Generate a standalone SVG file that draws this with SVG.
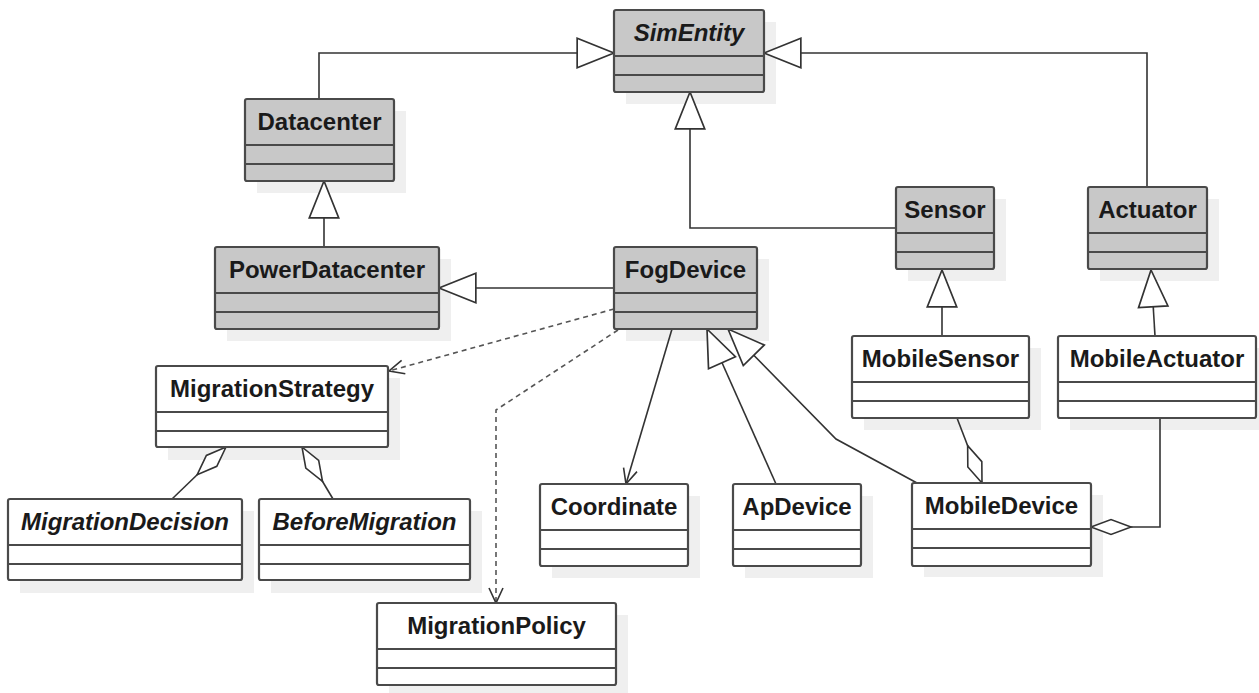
<svg xmlns="http://www.w3.org/2000/svg" width="1259" height="693" viewBox="0 0 1259 693">
  <style>
    .shadow { fill: #efefef; }
    .box { stroke: #4a4a4a; stroke-width: 2.2; }
    .gray { fill: #c8c8c8; }
    .white { fill: #ffffff; }
    .div { stroke: #4a4a4a; stroke-width: 2.2; }
    .name { font-family: "Liberation Sans", Arial, sans-serif; font-size: 24px; font-weight: bold; fill: #1a1a1a; text-anchor: middle; }
    .italic { font-style: italic; }
    .link { fill: none; stroke: #333333; stroke-width: 1.6; }
    .dep { fill: none; stroke: #555555; stroke-width: 1.6; stroke-dasharray: 5 4; }
  </style>
  <defs>
    <!-- generalization: hollow triangle -->
    <marker id="gen" markerUnits="userSpaceOnUse" markerWidth="40" markerHeight="34" viewBox="-36 -16 38 32" refX="0" refY="0" orient="auto" overflow="visible">
      <path d="M0,0 L-35,-14 L-35,14 Z" fill="#ffffff" stroke="#333333" stroke-width="1.6"/>
    </marker>
    <!-- navigable / dependency: open arrowhead -->
    <marker id="open" markerUnits="userSpaceOnUse" markerWidth="20" markerHeight="20" viewBox="-16 -10 18 20" refX="0" refY="0" orient="auto" overflow="visible">
      <path d="M-15,-7 L0,0 L-15,7" fill="none" stroke="#333333" stroke-width="1.6"/>
    </marker>
    <!-- aggregation: hollow diamond at the whole end -->
    <marker id="agg" markerUnits="userSpaceOnUse" markerWidth="44" markerHeight="20" viewBox="-2 -10 44 20" refX="0" refY="0" orient="auto" overflow="visible">
      <path d="M0,0 L20,-7.5 L40,0 L20,7.5 Z" fill="#ffffff" stroke="#333333" stroke-width="1.6"/>
    </marker>
  </defs>

  <rect width="1259" height="693" fill="#ffffff"/>

  <!-- drop shadows behind the class boxes -->
  <g id="shadows">
    <rect class="shadow" x="626" y="22" width="150" height="82"/>
    <rect class="shadow" x="257" y="111" width="149" height="82"/>
    <rect class="shadow" x="227" y="259" width="224" height="82"/>
    <rect class="shadow" x="626" y="259" width="143" height="82"/>
    <rect class="shadow" x="908" y="199" width="98" height="82"/>
    <rect class="shadow" x="1100" y="199" width="119" height="82"/>
    <rect class="shadow" x="864" y="348" width="177" height="82"/>
    <rect class="shadow" x="1070" y="348" width="189" height="82"/>
    <rect class="shadow" x="168" y="378" width="232" height="82"/>
    <rect class="shadow" x="20" y="511" width="234" height="82"/>
    <rect class="shadow" x="271" y="511" width="211" height="82"/>
    <rect class="shadow" x="552" y="496" width="148" height="82"/>
    <rect class="shadow" x="745" y="496" width="128" height="82"/>
    <rect class="shadow" x="924" y="495" width="179" height="82"/>
    <rect class="shadow" x="389" y="615" width="239" height="78"/>
  </g>

  <!-- connectors -->
  <g id="connectors">
    <path class="link" d="M319,99 V53 H614" marker-end="url(#gen)"/>
    <path class="link" d="M1147,187 V53 H764" marker-end="url(#gen)"/>
    <path class="link" d="M896,228 H690 V92" marker-end="url(#gen)"/>
    <path class="link" d="M324,247 V181" marker-end="url(#gen)"/>
    <path class="link" d="M614,288 H439" marker-end="url(#gen)"/>
    <path class="link" d="M942,336 V270" marker-end="url(#gen)"/>
    <path class="link" d="M1155,336 L1151,270" marker-end="url(#gen)"/>
    <path class="link" d="M776,484 L707,329" marker-end="url(#gen)"/>
    <path class="link" d="M917,483 L836,439 L728,329" marker-end="url(#gen)"/>
    <path class="link" d="M672,329 L626,484" marker-end="url(#open)"/>
    <path class="dep" d="M614,309 L389,371" marker-end="url(#open)"/>
    <path class="dep" d="M618,330 L496,410 V603" marker-end="url(#open)"/>
    <path class="link" d="M982,483 L957,418" marker-start="url(#agg)"/>
    <path class="link" d="M1091,527 H1160 V418" marker-start="url(#agg)"/>
    <path class="link" d="M226,447 L172,499" marker-start="url(#agg)"/>
    <path class="link" d="M302,447 L333,499" marker-start="url(#agg)"/>
  </g>

  <!-- classes -->
  <g id="SimEntity">
    <rect class="box gray" x="614" y="10" width="150" height="82" rx="2"/>
    <line class="div" x1="614" y1="56" x2="764" y2="56"/>
    <line class="div" x1="614" y1="75" x2="764" y2="75"/>
    <text class="name italic" x="689" y="41">SimEntity</text>
  </g>
  <g id="Datacenter">
    <rect class="box gray" x="245" y="99" width="149" height="82" rx="2"/>
    <line class="div" x1="245" y1="145" x2="394" y2="145"/>
    <line class="div" x1="245" y1="164" x2="394" y2="164"/>
    <text class="name" x="319.5" y="130">Datacenter</text>
  </g>
  <g id="PowerDatacenter">
    <rect class="box gray" x="215" y="247" width="224" height="82" rx="2"/>
    <line class="div" x1="215" y1="293" x2="439" y2="293"/>
    <line class="div" x1="215" y1="312" x2="439" y2="312"/>
    <text class="name" x="327" y="278">PowerDatacenter</text>
  </g>
  <g id="FogDevice">
    <rect class="box gray" x="614" y="247" width="143" height="82" rx="2"/>
    <line class="div" x1="614" y1="293" x2="757" y2="293"/>
    <line class="div" x1="614" y1="312" x2="757" y2="312"/>
    <text class="name" x="685.5" y="278">FogDevice</text>
  </g>
  <g id="Sensor">
    <rect class="box gray" x="896" y="187" width="98" height="82" rx="2"/>
    <line class="div" x1="896" y1="233" x2="994" y2="233"/>
    <line class="div" x1="896" y1="252" x2="994" y2="252"/>
    <text class="name" x="945" y="218">Sensor</text>
  </g>
  <g id="Actuator">
    <rect class="box gray" x="1088" y="187" width="119" height="82" rx="2"/>
    <line class="div" x1="1088" y1="233" x2="1207" y2="233"/>
    <line class="div" x1="1088" y1="252" x2="1207" y2="252"/>
    <text class="name" x="1147.5" y="218">Actuator</text>
  </g>
  <g id="MobileSensor">
    <rect class="box white" x="852" y="336" width="177" height="82" rx="2"/>
    <line class="div" x1="852" y1="382" x2="1029" y2="382"/>
    <line class="div" x1="852" y1="401" x2="1029" y2="401"/>
    <text class="name" x="940.5" y="367">MobileSensor</text>
  </g>
  <g id="MobileActuator">
    <rect class="box white" x="1058" y="336" width="198" height="82" rx="2"/>
    <line class="div" x1="1058" y1="382" x2="1256" y2="382"/>
    <line class="div" x1="1058" y1="401" x2="1256" y2="401"/>
    <text class="name" x="1157" y="367">MobileActuator</text>
  </g>
  <g id="MigrationStrategy">
    <rect class="box white" x="156" y="366" width="232" height="81" rx="2"/>
    <line class="div" x1="156" y1="412" x2="388" y2="412"/>
    <line class="div" x1="156" y1="431" x2="388" y2="431"/>
    <text class="name" x="272" y="397">MigrationStrategy</text>
  </g>
  <g id="MigrationDecision">
    <rect class="box white" x="8" y="499" width="234" height="81" rx="2"/>
    <line class="div" x1="8" y1="545" x2="242" y2="545"/>
    <line class="div" x1="8" y1="564" x2="242" y2="564"/>
    <text class="name italic" x="125" y="530">MigrationDecision</text>
  </g>
  <g id="BeforeMigration">
    <rect class="box white" x="259" y="499" width="211" height="81" rx="2"/>
    <line class="div" x1="259" y1="545" x2="470" y2="545"/>
    <line class="div" x1="259" y1="564" x2="470" y2="564"/>
    <text class="name italic" x="364.5" y="530">BeforeMigration</text>
  </g>
  <g id="Coordinate">
    <rect class="box white" x="540" y="484" width="148" height="82" rx="2"/>
    <line class="div" x1="540" y1="530" x2="688" y2="530"/>
    <line class="div" x1="540" y1="549" x2="688" y2="549"/>
    <text class="name" x="614" y="515">Coordinate</text>
  </g>
  <g id="ApDevice">
    <rect class="box white" x="733" y="484" width="128" height="82" rx="2"/>
    <line class="div" x1="733" y1="530" x2="861" y2="530"/>
    <line class="div" x1="733" y1="549" x2="861" y2="549"/>
    <text class="name" x="797" y="515">ApDevice</text>
  </g>
  <g id="MobileDevice">
    <rect class="box white" x="912" y="483" width="179" height="83" rx="2"/>
    <line class="div" x1="912" y1="529" x2="1091" y2="529"/>
    <line class="div" x1="912" y1="548" x2="1091" y2="548"/>
    <text class="name" x="1001.5" y="514">MobileDevice</text>
  </g>
  <g id="MigrationPolicy">
    <rect class="box white" x="377" y="603" width="239" height="82" rx="2"/>
    <line class="div" x1="377" y1="649" x2="616" y2="649"/>
    <line class="div" x1="377" y1="668" x2="616" y2="668"/>
    <text class="name" x="496.5" y="634">MigrationPolicy</text>
  </g>
</svg>
